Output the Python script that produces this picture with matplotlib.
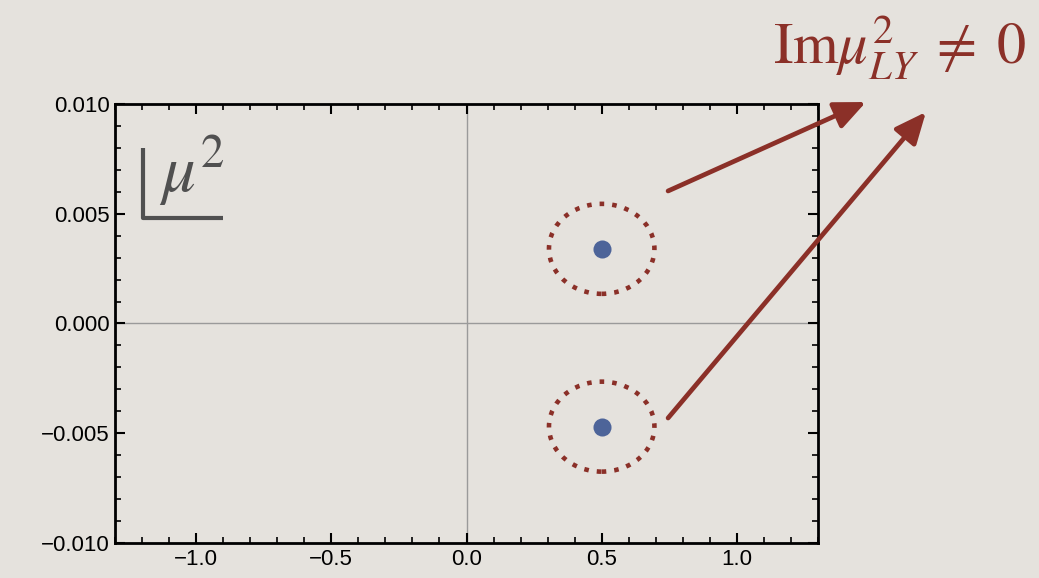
import matplotlib
matplotlib.use('Agg')
import matplotlib.pyplot as plt
from matplotlib.patches import Ellipse
from matplotlib.lines import Line2D
from matplotlib.ticker import MultipleLocator, FuncFormatter

# zeros in the complex mu^2 plane
re_mu2 = [0.50, 0.50]
im_mu2 = [0.0034, -0.0047]

bg = '#e5e2dd'
red = '#8b3028'
blue = '#4d6499'

plt.rcParams['font.family'] = ['Liberation Sans', 'DejaVu Sans']
plt.rcParams['mathtext.fontset'] = 'stix'

fig = plt.figure(figsize=(10.39, 5.78), dpi=100, facecolor=bg)
ax = fig.add_axes([0.1107, 0.0606, 0.6766, 0.7595], facecolor=bg)

ax.set_xlim(-1.3, 1.3)
ax.set_ylim(-0.01, 0.01)

# coordinate axes through origin
ax.axhline(0, color='#9a9a9a', lw=1.0, zorder=1)
ax.axvline(0, color='#9a9a9a', lw=1.0, zorder=1)

ax.plot(re_mu2, im_mu2, 'o', ms=13, color=blue, mec='none', zorder=3)

# dotted rings around each zero
for x, y in zip(re_mu2, im_mu2):
    ax.add_patch(Ellipse((x, y), 0.39, 0.0041, fill=False, ec=red, lw=3.3,
                         ls=(0, (1.0, 1.75)), capstyle='butt', zorder=2))

for s in ax.spines.values():
    s.set_linewidth(2.0)
ax.xaxis.set_major_locator(MultipleLocator(0.5))
ax.xaxis.set_minor_locator(MultipleLocator(0.1))
ax.yaxis.set_major_locator(MultipleLocator(0.005))
ax.yaxis.set_minor_locator(MultipleLocator(0.001))
ax.xaxis.set_major_formatter(FuncFormatter(lambda v, p: f'{v:.1f}'.replace('-', '\u2212')))
ax.yaxis.set_major_formatter(FuncFormatter(lambda v, p: f'{v:.3f}'.replace('-', '\u2212')))
ax.tick_params(which='both', direction='in', top=True, right=True, labelsize=16, pad=4)
ax.tick_params(which='major', length=7, width=1.5)
ax.tick_params(which='minor', length=4, width=1.2)

# mu^2 plane label
ax.add_line(Line2D([0.040, 0.040, 0.154], [0.900, 0.740, 0.740], transform=ax.transAxes,
                   color='#505050', lw=3, solid_capstyle='butt'))
ax.text(0.063, 0.80, r'$\mu^2$', transform=ax.transAxes, fontsize=48, color='#505050',
        ha='left', va='baseline')

# annotation arrows
kw = dict(arrowstyle='-|>,head_length=0.95,head_width=0.42', mutation_scale=20,
          color=red, lw=3.4, shrinkA=0, shrinkB=0)
ax.annotate('', xy=(0.8335, 0.8235), xycoords='figure fraction',
            xytext=(0.643, 0.6696), textcoords='figure fraction', arrowprops=kw,
            annotation_clip=False)
ax.annotate('', xy=(0.8912, 0.8062), xycoords='figure fraction',
            xytext=(0.643, 0.2768), textcoords='figure fraction', arrowprops=kw,
            annotation_clip=False)

fig.text(0.988, 0.889, r'$\mathrm{Im}\mu^2_{LY}\;\neq\;0$', fontsize=42, color=red,
         ha='right', va='baseline')

fig.savefig('out.png', dpi=100, facecolor=bg)
